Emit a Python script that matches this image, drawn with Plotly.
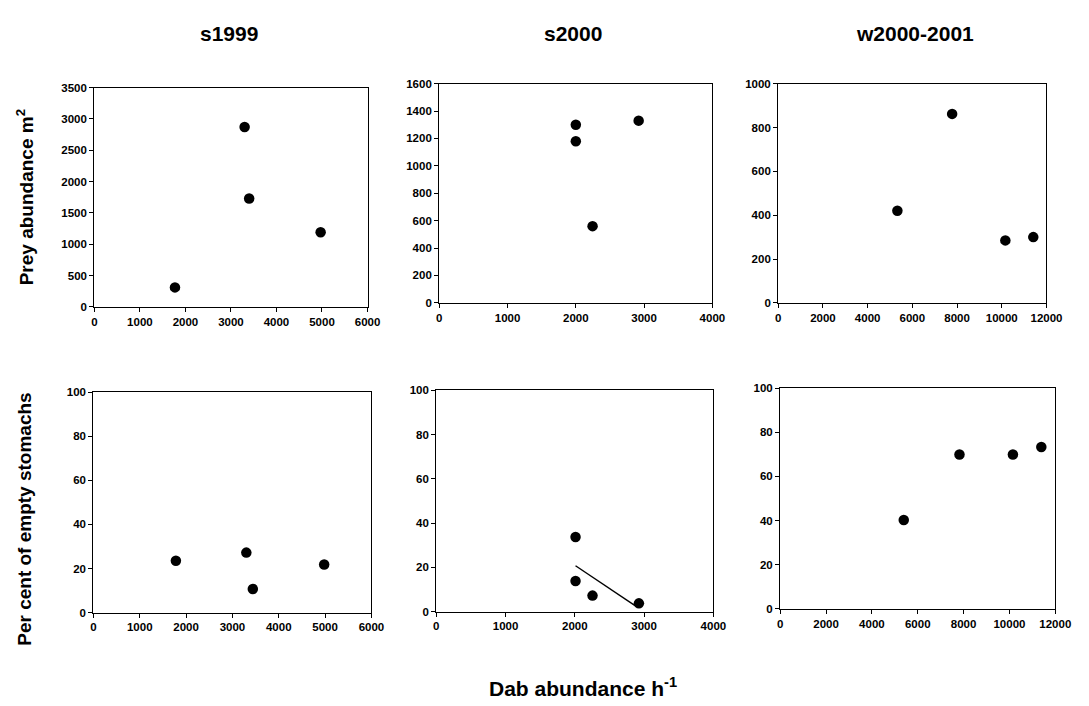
import numpy as np
import plotly.graph_objects as go

W, H = 1089, 706

# ---- data ----
season_titles = ["s1999", "s2000", "w2000-2001"]

dab_s1999 = [1770, 3300, 3400, 4970]
prey_s1999 = [310, 2870, 1730, 1190]
dab_s1999_b = [1780, 3300, 3440, 4980]
empty_s1999 = [23.5, 27.2, 10.7, 21.8]

dab_s2000 = [2000, 2000, 2920, 2245]
prey_s2000 = [1300, 1180, 1330, 560]
dab_s2000_b = [2010, 2010, 2255, 2925]
empty_s2000 = [33.7, 13.8, 7.2, 3.7]

dab_w2000 = [5330, 7780, 10160, 11410]
prey_w2000 = [420, 862, 285, 300]
dab_w2000_b = [5390, 7820, 10150, 11390]
empty_w2000 = [40.2, 70.0, 70.0, 73.4]

x_ranges = [6000, 4000, 12000]
x_dtick = [1000, 1000, 2000]
prey_ranges = [3500, 1600, 1000]
prey_dtick = [500, 200, 200]
empty_range = 100
empty_dtick = 20

# ---- layout geometry (pixels) ----
boxes = [  # x0, x1, y0(top), y1(bottom)
    (93, 371, 83, 306),
    (444, 722, 79, 302),
    (789, 1062, 79, 302),
    (92, 375, 393, 617),
    (441, 723, 391, 616),
    (791, 1071, 389, 613),
]

fig = go.Figure()
tickfont = dict(family="Liberation Sans, Arial", size=11.5, color="black", weight="bold")

panels = [
    (dab_s1999, prey_s1999, 0, prey_ranges[0], prey_dtick[0]),
    (dab_s2000, prey_s2000, 1, prey_ranges[1], prey_dtick[1]),
    (dab_w2000, prey_w2000, 2, prey_ranges[2], prey_dtick[2]),
    (dab_s1999_b, empty_s1999, 0, empty_range, empty_dtick),
    (dab_s2000_b, empty_s2000, 1, empty_range, empty_dtick),
    (dab_w2000_b, empty_w2000, 2, empty_range, empty_dtick),
]

for i, (xs, ys, col, ymax, ydt) in enumerate(panels):
    n = i + 1
    xa = "x" if n == 1 else f"x{n}"
    ya = "y" if n == 1 else f"y{n}"
    fig.add_trace(go.Scatter(x=xs, y=ys, mode="markers", xaxis=xa, yaxis=ya,
                             marker=dict(color="black", size=10.5, line=dict(width=0)),
                             showlegend=False, cliponaxis=False))
    x0, x1, t, b = boxes[i]
    axcommon = dict(showline=True, linecolor="black", linewidth=1.3, mirror=True,
                    ticks="outside", ticklen=4, tickwidth=1, tickcolor="black",
                    showgrid=False, zeroline=False, tickfont=tickfont, fixedrange=True,
                    tickformat="d")
    fig.layout[f"xaxis{'' if n == 1 else n}"] = dict(
        domain=[x0 / W, x1 / W], range=[0, x_ranges[col]], dtick=x_dtick[col], tick0=0,
        anchor=ya, **axcommon)
    fig.layout[f"yaxis{'' if n == 1 else n}"] = dict(
        domain=[1 - b / H, 1 - t / H], range=[0, ymax], dtick=ydt, tick0=0,
        anchor=xa, **axcommon)

# regression line in s2000 empty-stomach panel
xs5 = np.array(dab_s2000_b, dtype=float)
ys5 = np.array(empty_s2000, dtype=float)
slope, icpt = np.polyfit(xs5, ys5, 1)
xl = np.array([xs5.min(), xs5.max() - 40])
fig.add_trace(go.Scatter(x=xl, y=slope * xl + icpt, mode="lines", xaxis="x5", yaxis="y5",
                         line=dict(color="black", width=1.4), showlegend=False))

title_font = dict(family="Liberation Sans, Arial", size=21, color="black", weight="bold")
title_x = [230, 580, 928]
annotations = []
for tx, txt in zip(title_x, season_titles):
    annotations.append(dict(text=txt, x=tx / W, y=1 - 28 / H, xref="paper", yref="paper",
                            showarrow=False, xanchor="center", yanchor="middle", font=title_font))

lab_font = dict(family="Liberation Sans, Arial", size=19, color="black", weight="bold")
annotations.append(dict(text="Prey abundance m<sup>2</sup>", x=22 / W, y=1 - 195 / H,
                        xref="paper", yref="paper", showarrow=False, textangle=-90,
                        xanchor="center", yanchor="middle", font=lab_font))
annotations.append(dict(text="Per cent of empty stomachs", x=22 / W, y=1 - 522 / H,
                        xref="paper", yref="paper", showarrow=False, textangle=-90,
                        xanchor="center", yanchor="middle", font=lab_font))
annotations.append(dict(text="Dab abundance h<sup>-1</sup>", x=590 / W, y=1 - 693 / H,
                        xref="paper", yref="paper", showarrow=False,
                        xanchor="center", yanchor="middle",
                        font=dict(family="Liberation Sans, Arial", size=21, color="black",
                                  weight="bold")))

fig.update_layout(width=W, height=H, margin=dict(l=0, r=0, t=0, b=0),
                  paper_bgcolor="white", plot_bgcolor="white", showlegend=False,
                  annotations=annotations)

fig.write_html("out.html", config={"displayModeBar": False})
